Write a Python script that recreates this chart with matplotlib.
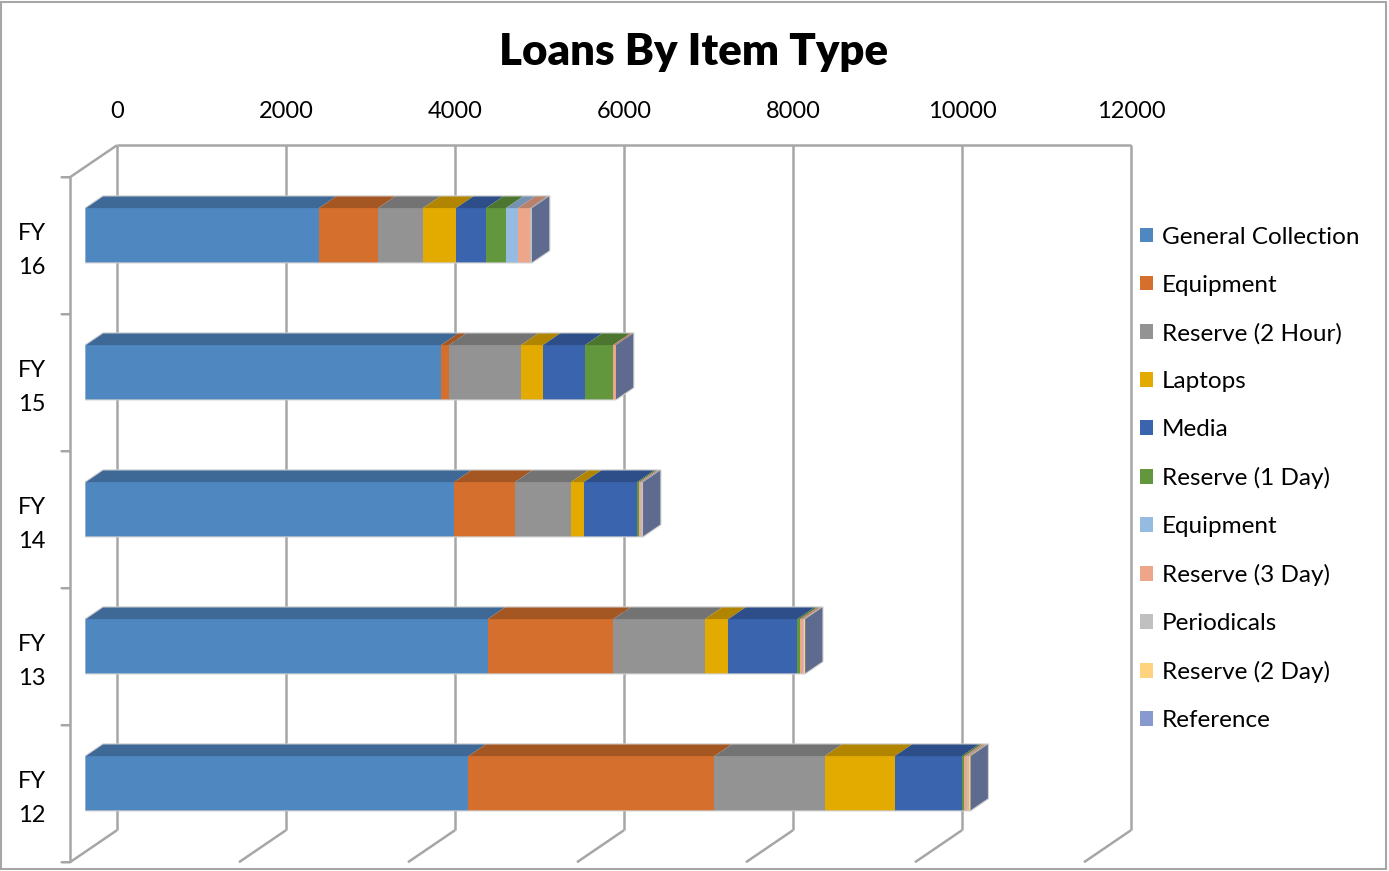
import matplotlib
matplotlib.use("Agg")
import matplotlib.pyplot as plt
from matplotlib.patches import Polygon, Patch, Rectangle

plt.rcParams["font.family"] = ["Lato", "DejaVu Sans"]

# data (bottom to top: FY12 .. FY16)
years = ["FY\n12", "FY\n13", "FY\n14", "FY\n15", "FY\n16"]
series_names = ["General Collection", "Equipment", "Reserve (2 Hour)", "Laptops",
                "Media", "Reserve (1 Day)", "Equipment", "Reserve (3 Day)",
                "Periodicals", "Reserve (2 Day)", "Reference"]
general = [4538, 4766, 4367, 4213, 2769]
equipment = [2911, 1486, 722, 95, 698]
reserve_2h = [1305, 1085, 662, 852, 533]
laptops = [829, 276, 154, 260, 391]
media = [792, 817, 628, 497, 355]
reserve_1d = [30, 32, 23, 332, 236]
equipment_2 = [0, 0, 0, 0, 142]
reserve_3d = [30, 35, 25, 35, 142]
periodicals = [25, 15, 18, 0, 20]
reserve_2d = [20, 10, 5, 0, 4]
reference = [0, 0, 0, 0, 0]
x_ticks = [0, 2000, 4000, 6000, 8000, 10000, 12000]

values = [general, equipment, reserve_2h, laptops, media, reserve_1d,
          equipment_2, reserve_3d, periodicals, reserve_2d, reference]
colors = ["#4f87c1", "#d46f2d", "#939393", "#e3aa00", "#3a64ae", "#62973d",
          "#96bbe0", "#eda68a", "#c0c0c0", "#ffd27f", "#8799cf"]
end_color = "#5e6b8e"
grid_color = "#a6a6a6"


def darker(c, f=0.78):
    r, g, b = matplotlib.colors.to_rgb(c)
    return (r * f, g * f, b * f)


fig = plt.figure(figsize=(13.89, 8.71), dpi=100)
ax = fig.add_axes([85 / 1389, 19 / 871, 1014 / 1389, 685 / 871])
ax.set_xlim(0, 12000)
ax.set_ylim(-0.5, 4.5)
ax.axis("off")

# fake 3D: depth 0 = front plane, 1 = back wall, bars sit between
DX = 47 * 12000 / 1014
DY = 32 * 5 / 685
D_BAR = 0.32
D_BACK = 0.70
BAR_H = 0.40


def shift(x, y, d):
    return x + (d - D_BAR) * DX, y + (d - D_BAR) * DY


gkw = dict(color=grid_color, lw=1.8, zorder=1, clip_on=False, solid_capstyle="butt")
for v in x_ticks:
    (x0, y0), (x1, y1) = shift(v, -0.5, 1), shift(v, 4.5, 1)
    ax.plot([x0, x1], [y0, y1], **gkw)
    (x2, y2) = shift(v, -0.5, 0)
    ax.plot([x2, x0], [y2, y0], **gkw)
    ax.annotate(str(v), xy=(x1, y1), xytext=(0, 24.5), textcoords="offset points",
                ha="center", va="center", fontsize=17, annotation_clip=False)

(ax0, ay0), (ax1, ay1) = shift(0, 4.5, 1), shift(12000, 4.5, 1)
ax.plot([ax0, ax1], [ay0, ay1], **gkw)
(fx0, fy0), (fx1, fy1) = shift(0, -0.5, 0), shift(0, 4.5, 0)
ax.plot([fx0, fx1], [fy0, fy1], **gkw)
ax.plot([fx1, ax0], [fy1, ay0], **gkw)
for k in range(6):
    bx, by = shift(0, k - 0.5, 0)
    ax.annotate("", xy=(bx, by), xytext=(-6, 0), textcoords="offset points",
                annotation_clip=False,
                arrowprops=dict(arrowstyle="-", color=grid_color, lw=1.8,
                                shrinkA=0, shrinkB=0))

for i, lab in enumerate(years):
    lx, ly = shift(0, i, 0)
    ax.annotate(lab, xy=(lx, ly), xytext=(-27.5, -3.5), textcoords="offset points",
                ha="center", va="center", fontsize=17, linespacing=1.75,
                multialignment="center", annotation_clip=False)

# bars
bdx = (D_BACK - D_BAR) * DX
bdy = (D_BACK - D_BAR) * DY
for i in range(len(years)):
    left = 0
    top = i + BAR_H / 2
    bot = i - BAR_H / 2
    for vals, c in zip(values, colors):
        w = vals[i]
        if w > 0:
            ax.barh(i, w, left=left, height=BAR_H, color=c, lw=0, zorder=3)
            ax.add_patch(Polygon([(left, top), (left + w, top),
                                  (left + w + bdx, top + bdy), (left + bdx, top + bdy)],
                                 closed=True, fc=darker(c), lw=0, zorder=3))
        left += w
    ax.add_patch(Polygon([(left, bot), (left, top), (left + bdx, top + bdy),
                          (left + bdx, bot + bdy)], closed=True, fc=end_color,
                         lw=0, zorder=3))
    ax.add_patch(Polygon([(0, bot), (0, top), (bdx, top + bdy), (left + bdx, top + bdy),
                          (left + bdx, bot + bdy), (left, bot)], closed=True,
                         fill=False, ec="#cfcfcf", lw=0.8, zorder=4))

handles = [Patch(fc=c, lw=0) for c in colors]
fig.legend(handles, series_names, loc="upper left",
           bbox_to_anchor=(1130 / 1389, 1 - 217 / 871), frameon=False,
           fontsize=17.5, handlelength=0.55, handleheight=0.55,
           handletextpad=0.35, labelspacing=1.11, borderaxespad=0)

fig.text(694 / 1389, 1 - 52 / 871, "Loans By Item Type", ha="center", va="center",
         fontsize=31.5, fontweight="heavy")

fig.patches.append(Rectangle((0.001, 0.002), 0.997, 0.996, transform=fig.transFigure,
                             fill=False, ec="#a6a6a6", lw=1.5))

fig.savefig("out.png", dpi=100)
